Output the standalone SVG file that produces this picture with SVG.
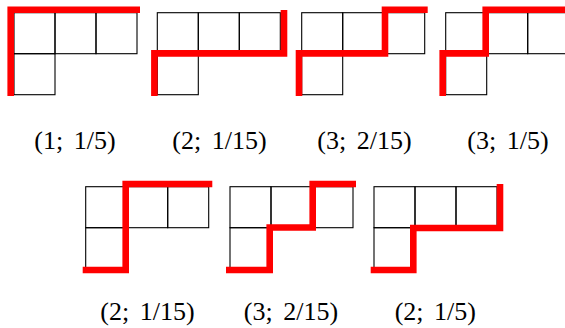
<svg xmlns="http://www.w3.org/2000/svg" width="565" height="328" viewBox="0 0 565 328">
<style>
.cell{fill:none;stroke:#000;stroke-width:1.1}
.path{fill:none;stroke:#ff0000;stroke-width:6.6;stroke-linejoin:miter;stroke-linecap:butt}
.lbl{font-family:"Liberation Serif","Times New Roman",serif;font-size:26px;fill:#000;text-anchor:middle;word-spacing:4px}
</style>
<defs>
<g id="grid">
<rect class="cell" x="0" y="0" width="41" height="41"/>
<rect class="cell" x="41" y="0" width="41" height="41"/>
<rect class="cell" x="82" y="0" width="41" height="41"/>
<rect class="cell" x="0" y="41" width="41" height="41"/>
</g>
</defs>
<rect width="565" height="328" fill="#fff"/>
<g id="p1">
<use href="#grid" x="14" y="12.7"/>
<path class="path" d="M10.7,96 V9.7 H140"/>
<text class="lbl" x="75" y="149">(1; 1/5)</text>
</g>
<g id="p2">
<use href="#grid" x="157.3" y="12.7"/>
<path class="path" d="M154.4,96 V53.4 H284 V10"/>
<text class="lbl" x="219.5" y="149">(2; 1/15)</text>
</g>
<g id="p3">
<use href="#grid" x="301.7" y="12.7"/>
<path class="path" d="M299,96 V53.4 H385 V9.7 H427.7"/>
<text class="lbl" x="364.5" y="149">(3; 2/15)</text>
</g>
<g id="p4">
<use href="#grid" x="445.7" y="12.7"/>
<path class="path" d="M442.7,96 V53.4 H485.7 V9.7 H570"/>
<text class="lbl" x="508" y="149">(3; 1/5)</text>
</g>
<g id="p5">
<use href="#grid" x="85.7" y="186.7"/>
<path class="path" d="M82.7,270 H125.7 V184 H212.3"/>
<text class="lbl" x="147.5" y="320">(2; 1/15)</text>
</g>
<g id="p6">
<use href="#grid" x="230" y="186.7"/>
<path class="path" d="M226,270 H269.7 V227.5 H312.7 V184 H356"/>
<text class="lbl" x="291" y="320">(3; 2/15)</text>
</g>
<g id="p7">
<use href="#grid" x="374" y="186.7"/>
<path class="path" d="M370.7,270 H413.3 V228 H500 V184"/>
<text class="lbl" x="435.3" y="320">(2; 1/5)</text>
</g>
</svg>
